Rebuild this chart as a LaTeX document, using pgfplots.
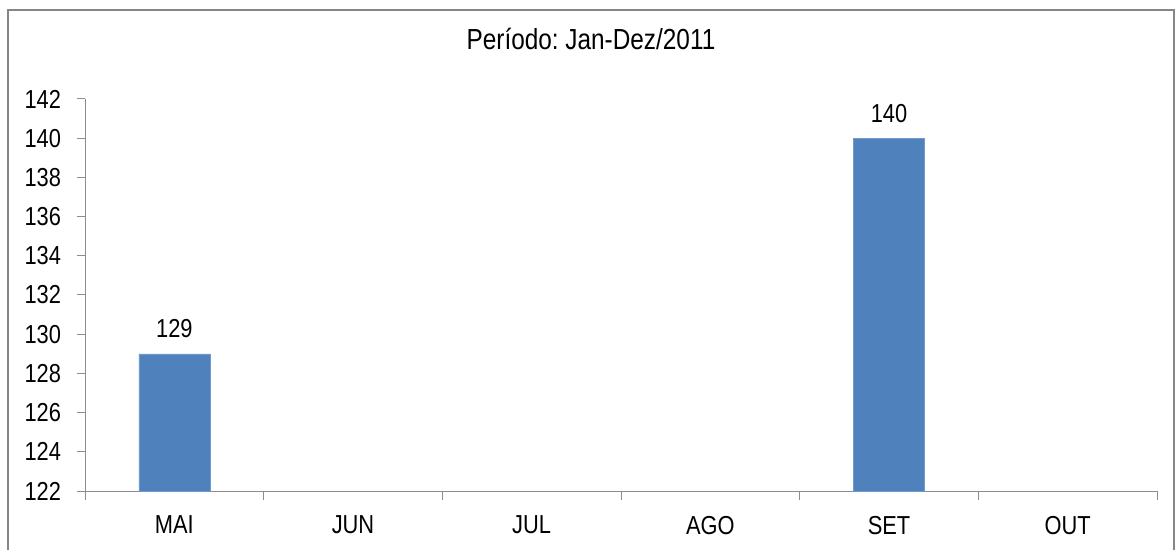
\documentclass[border=0pt]{standalone}
\usepackage{fontspec}
\setmainfont{Liberation Sans}[FakeStretch=0.84]
\usepackage{pgfplots}
\pgfplotsset{compat=1.18}
\definecolor{barblue}{HTML}{4F81BD}
\definecolor{framegray}{HTML}{868686}
\definecolor{axisgray}{HTML}{8C8C8C}

\begin{document}
\frenchspacing
\begin{tikzpicture}
\useasboundingbox (0pt,0pt) rectangle (1175pt,549pt);

% outer chart frame (bottom edge falls outside the picture)
\draw[framegray, line width=2pt] (7.5pt,-10pt) -- (7.5pt,539pt) -- (1174pt,539pt) -- (1174pt,-10pt);

\begin{axis}[
  at={(85pt,58pt)}, anchor=south west,
  scale only axis,
  width=1072pt, height=392pt,
  xmin=-0.5, xmax=5.5,
  ymin=122, ymax=142,
  ytick={122,124,...,142},
  % ticks sit on category boundaries, labels are moved to the centres
  xtick={-0.5,0.5,...,5.5},
  xticklabels={MAI,JUN,JUL,AGO,SET,OUT,},
  axis x line*=bottom,
  axis y line*=left,
  axis line style={axisgray, line width=1pt, -},
  tick align=outside,
  major tick length=8.5pt,
  tick style={axisgray, line width=1pt},
  tick label style={font=\fontsize{26}{30}\selectfont},
  /pgf/number format/assume math mode=true,
  /pgf/number format/1000 sep={},
  yticklabel style={anchor=east, xshift=-12pt},
  xticklabel style={anchor=north, xshift=89.33pt, yshift=-13pt},
  ybar,
  bar width=71pt,
  nodes near coords,
  every node near coord/.append style={font=\fontsize{26}{30}\selectfont, anchor=base, yshift=16pt},
]
\addplot[fill=barblue, draw=barblue!80!white, line width=0.5pt] coordinates {
  (0,129) (4,140)
};
\end{axis}

\node[anchor=base, font=\fontsize{29}{33}\selectfont] at (591pt,499pt) {Período: Jan-Dez/2011};
\end{tikzpicture}
\end{document}
